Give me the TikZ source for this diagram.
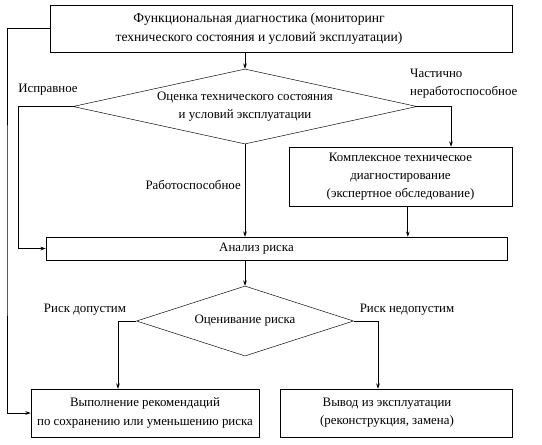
\documentclass[tikz,border=0pt]{standalone}
\usepackage{fontspec}
\setmainfont{Liberation Serif}
\usetikzlibrary{arrows.meta,shapes.geometric}
\def\FontSz{\fontsize{11}{15.5}\selectfont}
\def\TopSz{\fontsize{11.6}{16}\selectfont}

\begin{document}
\begin{tikzpicture}[x=0.03cm, y=-0.03cm,
  box/.style={draw, rectangle, inner sep=0pt, align=center, font=\FontSz},
  boxtext/.style={inner sep=0pt, align=center, font=\FontSz},
  decide/.style={draw, diamond, inner sep=0pt, align=center, font=\FontSz},
  lbl/.style={inner sep=0pt, font=\FontSz},
  conn/.style={line width=0.6pt, -{Stealth[length=4.5pt,width=3pt]}}]
\useasboundingbox (0,0) rectangle (542,444);

\node[box, minimum width=13.86cm, minimum height=1.41cm,
  label={[boxtext, font=\TopSz, xshift=-0.66cm]center:{Функциональная диагностика (мониторинг\\технического состояния и условий эксплуатации)}}]
  (diag) at (281,28.5) {};
\node[decide, shape aspect=4.6, minimum width=10.32cm, minimum height=2.25cm] (ocen) at (245,106.5)
  {Оценка технического состояния\\и условий эксплуатации};
\node[box, minimum width=6.69cm, minimum height=1.77cm] (kompl) at (400.5,176.5)
  {Комплексное техническое\\диагностирование\\(экспертное обследование)};
\node[box, minimum width=13.83cm, minimum height=0.69cm,
  label={[boxtext, xshift=-0.6cm]center:Анализ риска}] (analiz) at (276.5,248.5) {};
\node[decide, shape aspect=3.1, minimum width=6.51cm, minimum height=2.1cm] (risk) at (245,321)
  {Оценивание риска};
\node[box, minimum width=6.84cm, minimum height=1.44cm] (rekom) at (145,413)
  {Выполнение рекомендаций\\по сохранению или уменьшению риска};
\node[box, minimum width=6.96cm, minimum height=1.44cm,
  label={[boxtext, xshift=-0.27cm]center:{Вывод из эксплуатации\\(реконструкция, замена)}}]
  (vyvod) at (396,413) {};

\coordinate (ispr) at (18,106.5);
\coordinate (chast) at (451,106.5);
\coordinate (dop) at (118,321);
\coordinate (nedop) at (378,321);
\coordinate (back) at (7,220);

\draw[conn] (ocen.north |- diag.south) -- (ocen.north);
\draw[conn] (ocen.west) -- (ispr) |- (analiz.west);
\draw[conn] (ocen.east) -- (chast) -- (chast |- kompl.north);
\draw[conn] (ocen.south) -- (ocen.south |- analiz.north);
\draw[conn] ([xshift=0.22cm]kompl.south) -- ([xshift=0.22cm]kompl.south |- analiz.north);
\draw[conn] (risk.north |- analiz.south) -- (risk.north);
\draw[conn] (risk.west) -- (dop) -- (dop |- rekom.north);
\draw[conn] (risk.east) -- (nedop) -- (nedop |- vyvod.north);
\draw[conn, {Stealth[length=4.5pt,width=3pt]}-] (rekom.west) -| (back) |- (diag.west);

\node[lbl] (lispr) at (48,90) {Исправное};
\node[lbl, anchor=north west, align=left] (lchast) at (410,69)
  {Частично\\неработоспособное};
\node[lbl, anchor=east] (lrab) at (241,185) {Работоспособное};
\node[lbl] (ldop) at (85,310) {Риск допустим};
\node[lbl] (lnedop) at (407,310) {Риск недопустим};
\end{tikzpicture}
\end{document}
